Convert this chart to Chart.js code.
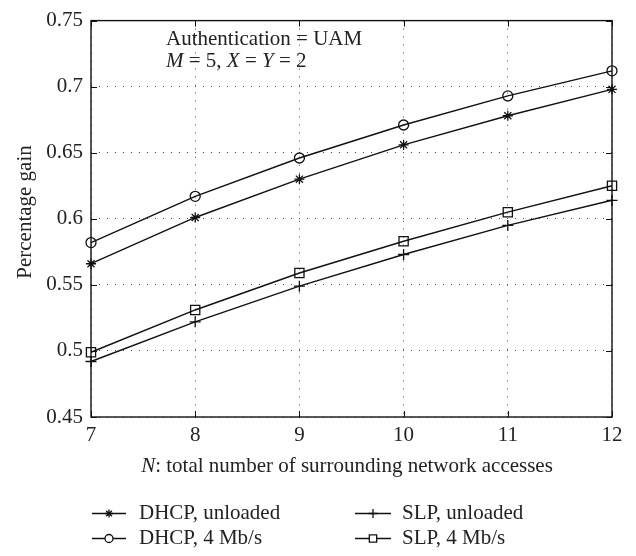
<!DOCTYPE html>
<html><head><meta charset="utf-8">
<script src="https://cdn.jsdelivr.net/npm/chart.js@4.4.1/dist/chart.umd.min.js"></script>
<style>html,body{margin:0;padding:0;background:#fff}canvas{display:block}</style>
</head><body>
<canvas id="c" width="636" height="556"></canvas>
<script>
// N: total number of surrounding network accesses
const accesses = [7, 8, 9, 10, 11, 12];
// Percentage gain per scheme
const dhcpUnloaded = [0.566, 0.601, 0.630, 0.656, 0.678, 0.698];
const dhcp4Mbps    = [0.582, 0.617, 0.646, 0.671, 0.693, 0.712];
const slpUnloaded  = [0.492, 0.522, 0.549, 0.573, 0.595, 0.614];
const slp4Mbps     = [0.499, 0.531, 0.559, 0.583, 0.605, 0.625];
const seriesNames  = ['DHCP, unloaded', 'DHCP, 4 Mb/s', 'SLP, unloaded', 'SLP, 4 Mb/s'];
const yTickValues  = [0.45, 0.5, 0.55, 0.6, 0.65, 0.7, 0.75];
const xTickValues  = [7, 8, 9, 10, 11, 12];

const FONT = '"Liberation Serif", "DejaVu Serif", serif';
const FS = 21;

const toPoints = vals => accesses.map((n, i) => ({ x: n, y: vals[i] }));

const markerStyles = [
  { pointStyle: 'star', radius: 5 },
  { pointStyle: 'circle', radius: 5 },
  { pointStyle: 'cross', radius: 5.5 },
  { pointStyle: 'rect', radius: 6.5 }
];

const datasets = [dhcpUnloaded, dhcp4Mbps, slpUnloaded, slp4Mbps].map((vals, i) => ({
  label: seriesNames[i],
  data: toPoints(vals),
  borderColor: '#111',
  backgroundColor: 'rgba(0,0,0,0)',
  borderWidth: 1.4,
  pointStyle: markerStyles[i].pointStyle,
  pointRadius: markerStyles[i].radius,
  pointBorderColor: '#111',
  pointBackgroundColor: 'rgba(0,0,0,0)',
  pointBorderWidth: 1.3,
  tension: 0,
  clip: false
}));

// Frame, inner tick marks, annotation, axis titles and legend
const decorations = {
  id: 'decorations',
  afterDatasetsDraw(chart) {
    const ctx = chart.ctx;
    const a = chart.chartArea;
    const xs = chart.scales.x, ys = chart.scales.y;
    ctx.save();
    ctx.strokeStyle = '#111';
    ctx.lineWidth = 1.4;
    ctx.strokeRect(a.left, a.top, a.right - a.left, a.bottom - a.top);
    ctx.lineWidth = 1;
    const t = 6;
    ctx.beginPath();
    yTickValues.forEach(v => {
      const y = Math.round(ys.getPixelForValue(v)) + 0.5;
      ctx.moveTo(a.left, y); ctx.lineTo(a.left + t, y);
      ctx.moveTo(a.right, y); ctx.lineTo(a.right - t, y);
    });
    xTickValues.forEach(v => {
      const x = Math.round(xs.getPixelForValue(v)) + 0.5;
      ctx.moveTo(x, a.bottom); ctx.lineTo(x, a.bottom - t);
      ctx.moveTo(x, a.top); ctx.lineTo(x, a.top + t);
    });
    ctx.stroke();

    ctx.fillStyle = '#222';
    ctx.textBaseline = 'middle';
    // annotation
    const upright = `${FS}px ${FONT}`;
    const italic = `italic ${FS}px ${FONT}`;
    ctx.font = upright;
    ctx.textAlign = 'left';
    ctx.fillText('Authentication = UAM', 166, 39);
    let x = 166;
    [['M', italic], [' = 5, ', upright], ['X', italic], [' = ', upright], ['Y', italic], [' = 2', upright]].forEach(([s, f]) => {
      ctx.font = f;
      ctx.fillText(s, x, 61);
      x += ctx.measureText(s).width;
    });

    // x title
    const xt1 = 'N', xt2 = ': total number of surrounding network accesses';
    ctx.font = italic; const w1 = ctx.measureText(xt1).width;
    ctx.font = upright; const w2 = ctx.measureText(xt2).width;
    let sx = 347 - (w1 + w2) / 2;
    ctx.font = italic; ctx.fillText(xt1, sx, 466);
    ctx.font = upright; ctx.fillText(xt2, sx + w1, 466);

    // y title
    ctx.save();
    ctx.translate(25, 212);
    ctx.rotate(-Math.PI / 2);
    ctx.textAlign = 'center';
    ctx.fillText('Percentage gain', 0, 0);
    ctx.restore();

    // legend
    const cols = [{ l: 92, r: 126, tx: 139 }, { l: 355, r: 391, tx: 402 }];
    const rows = [513, 538];
    const order = [[0, 0, 0], [1, 0, 1], [2, 1, 0], [3, 1, 1]];
    order.forEach(([di, ci, ri]) => {
      const c = cols[ci], y = rows[ri];
      const ds = chart.data.datasets[di];
      ctx.strokeStyle = '#111';
      ctx.lineWidth = 1.4;
      ctx.beginPath();
      ctx.moveTo(c.l, y + 0.5); ctx.lineTo(c.r, y + 0.5);
      ctx.stroke();
      ctx.lineWidth = 1.3;
      ctx.fillStyle = '#fff';
      Chart.helpers.drawPoint(ctx, { pointStyle: ds.pointStyle, radius: ds.pointRadius * 0.8, rotation: 0, borderWidth: 1.3 }, (c.l + c.r) / 2, y + 0.5);
      ctx.fillStyle = '#222';
      ctx.font = upright;
      ctx.textAlign = 'left';
      ctx.fillText(ds.label, c.tx, y);
    });
    ctx.restore();
  }
};

new Chart(document.getElementById('c'), {
  type: 'line',
  data: { datasets },
  options: {
    responsive: false,
    animation: false,
    events: [],
    layout: { padding: { top: 7, right: 24, left: 0, bottom: 0 } },
    plugins: { legend: { display: false }, tooltip: { enabled: false }, title: { display: false } },
    scales: {
      x: {
        type: 'linear', min: 7, max: 12,
        afterBuildTicks: s => { s.ticks = xTickValues.map(v => ({ value: v })); },
        afterFit: s => { s.height = 139; },
        grid: { color: '#444', lineWidth: 1, drawTicks: false },
        border: { display: false, dash: [1, 7] },
        ticks: { padding: 6, color: '#222', font: { family: FONT, size: FS }, callback: v => String(v) }
      },
      y: {
        type: 'linear', min: 0.45, max: 0.75,
        afterBuildTicks: s => { s.ticks = yTickValues.map(v => ({ value: v })); },
        afterFit: s => { s.width = 91; },
        grid: { color: '#444', lineWidth: 1, drawTicks: false },
        border: { display: false, dash: [1, 7] },
        ticks: { padding: 8, color: '#222', font: { family: FONT, size: FS }, callback: v => String(+v.toFixed(2)) }
      }
    }
  },
  plugins: [decorations]
});
</script>
</body></html>
